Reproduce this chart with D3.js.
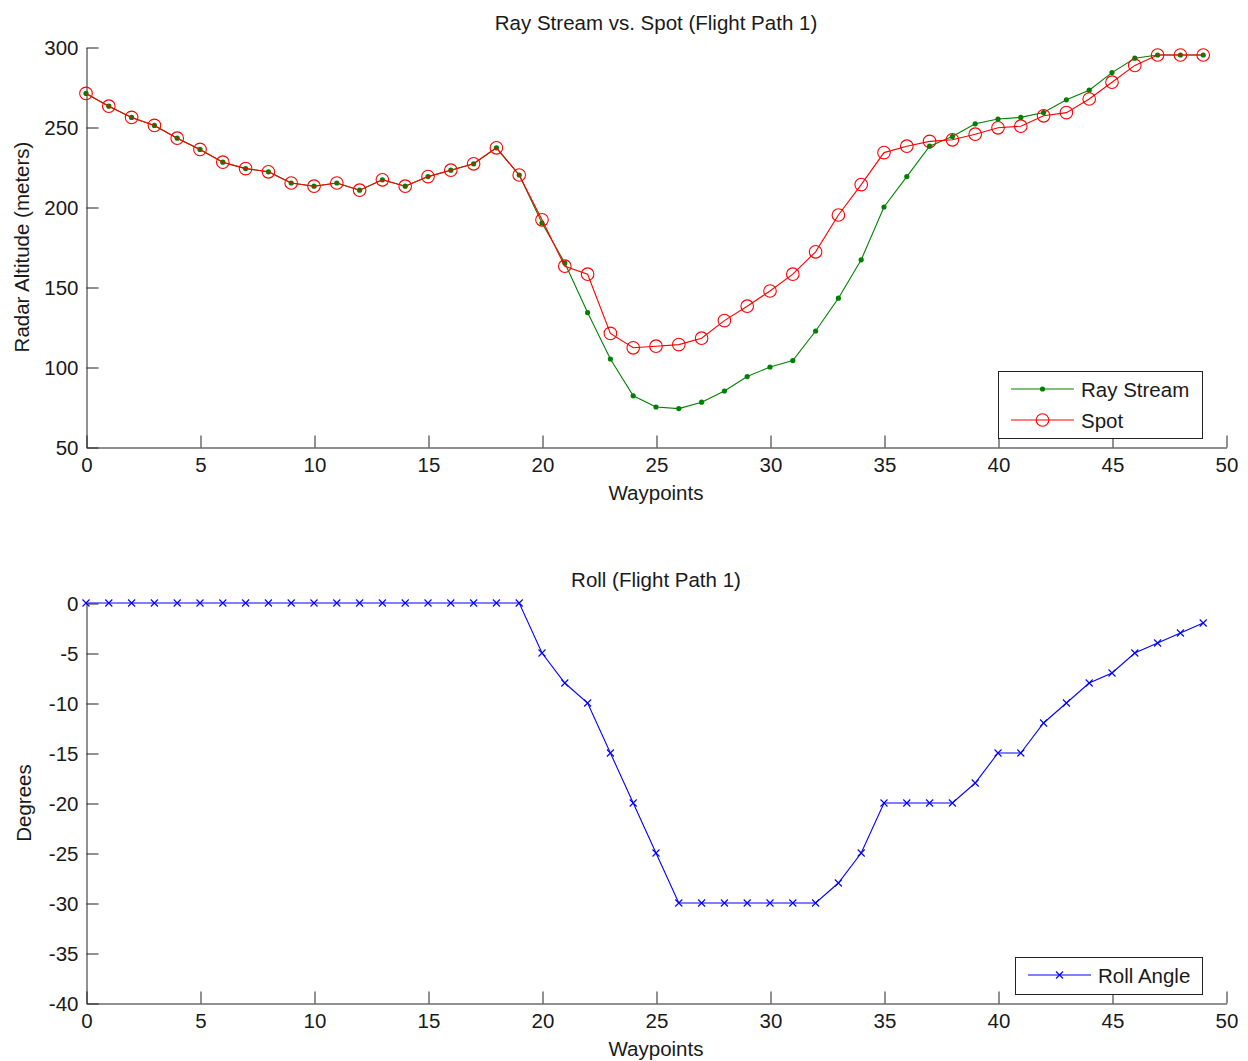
<!DOCTYPE html>
<html>
<head>
<meta charset="utf-8">
<script src="https://cdn.jsdelivr.net/npm/d3@7"></script>
<style>
  html, body { margin: 0; padding: 0; background: #fff; }
  svg text { font-family: "Liberation Sans", Arial, sans-serif; fill: #1a1a1a; }
</style>
</head>
<body>
<svg id="chart" width="1248" height="1061"></svg>
<script>
// ---- Data ----
const waypoints = d3.range(0, 50);
const rayStream = [271, 263, 256, 251, 243, 236, 228, 224, 222, 215,
                   213, 215, 210.5, 217, 213, 219, 223, 227, 237, 220,
                   190, 165, 134, 105, 82, 75, 74, 78, 85, 94,
                   100, 104, 122.5, 143, 167, 200, 219, 238, 244, 252,
                   255, 256, 259, 267, 273, 284, 293, 295, 295, 295];
const spot = [271, 263, 256, 251, 243, 236, 228, 224, 222, 215,
              213, 215, 210.5, 217, 213, 219, 223, 227, 237, 220,
              192, 163, 158, 121, 112, 113, 114, 118, 129, 138,
              147.5, 158, 172, 195, 214, 234, 238, 241, 242, 245.5,
              249.5, 250.5, 257, 259, 267.5, 278, 288.5, 295, 295, 295];
const rollAngle = [0, 0, 0, 0, 0, 0, 0, 0, 0, 0,
                   0, 0, 0, 0, 0, 0, 0, 0, 0, 0,
                   -5, -8, -10, -15, -20, -25, -30, -30, -30, -30,
                   -30, -30, -30, -28, -25, -20, -20, -20, -20, -18,
                   -15, -15, -12, -10, -8, -7, -5, -4, -3, -2];
const xTicks = [0, 5, 10, 15, 20, 25, 30, 35, 40, 45, 50];
const altTicks = [50, 100, 150, 200, 250, 300];
const rollTicks = [-40, -35, -30, -25, -20, -15, -10, -5, 0];

// ---- Layout ----
const svg = d3.select("#chart");
const FS = 20.5;
const left = 86, right = 1226;
const x = d3.scaleLinear().domain([0, 50]).range([left, right]);
const yTop = d3.scaleLinear().domain([50, 300]).range([447, 47]);
const yBot = d3.scaleLinear().domain([-40, 0]).range([1003, 603]);
const fmt = d => String(d);

function drawAxes(y, ticks, title, ylabel, titleY, ylabelX) {
  const g = svg.append("g");
  const xa = g.append("g")
    .attr("transform", `translate(0.5,${y.range()[0] + 0.5})`)
    .call(d3.axisBottom(x).tickValues(xTicks).tickFormat(fmt)
      .tickSizeInner(-12).tickSizeOuter(0).tickPadding(10));
  const ya = g.append("g")
    .attr("transform", `translate(${left + 0.5},0.5)`)
    .call(d3.axisLeft(y).tickValues(ticks).tickFormat(fmt)
      .tickSizeInner(-12).tickSizeOuter(0).tickPadding(8));
  [xa, ya].forEach(a => {
    a.selectAll("path, line").attr("stroke", "#222").attr("stroke-width", 1);
    a.selectAll("text").style("font-size", FS + "px")
      .style("font-family", '"Liberation Sans", Arial, sans-serif').attr("fill", "#1a1a1a");
  });
  g.append("text").attr("x", (left + right) / 2).attr("y", titleY)
    .attr("text-anchor", "middle").style("font-size", FS + "px").text(title);
  g.append("text").attr("x", (left + right) / 2).attr("y", y.range()[0] + 53)
    .attr("text-anchor", "middle").style("font-size", FS + "px").text("Waypoints");
  const cy = (y.range()[0] + y.range()[1]) / 2;
  g.append("text").attr("transform", `translate(${ylabelX},${cy}) rotate(-90)`)
    .attr("text-anchor", "middle").style("font-size", FS + "px").text(ylabel);
}

drawAxes(yTop, altTicks, "Ray Stream vs. Spot (Flight Path 1)", "Radar Altitude (meters)", 30, 29);
drawAxes(yBot, rollTicks, "Roll (Flight Path 1)", "Degrees", 587, 31);

// ---- Top plot series ----
const lineTop = (arr) => d3.line().x((d, i) => x(waypoints[i])).y(d => yTop(d))(arr);
const GREEN = "#008000", RED = "#ff0000", BLUE = "#0000ff";

svg.append("path").attr("d", lineTop(rayStream)).attr("fill", "none")
  .attr("stroke", GREEN).attr("stroke-width", 1.1);
svg.append("g").selectAll("circle").data(rayStream).join("circle")
  .attr("cx", (d, i) => x(waypoints[i])).attr("cy", d => yTop(d)).attr("r", 2.6)
  .attr("fill", GREEN);

svg.append("path").attr("d", lineTop(spot)).attr("fill", "none")
  .attr("stroke", RED).attr("stroke-width", 1.1);
svg.append("g").selectAll("circle").data(spot).join("circle")
  .attr("cx", (d, i) => x(waypoints[i])).attr("cy", d => yTop(d)).attr("r", 6.3)
  .attr("fill", "none").attr("stroke", RED).attr("stroke-width", 1.1);

// ---- Bottom plot series ----
const lineBot = d3.line().x((d, i) => x(waypoints[i])).y(d => yBot(d));
svg.append("path").attr("d", lineBot(rollAngle)).attr("fill", "none")
  .attr("stroke", BLUE).attr("stroke-width", 1.1);
const cross = (cx, cy, s) => `M${cx - s},${cy - s}L${cx + s},${cy + s}M${cx - s},${cy + s}L${cx + s},${cy - s}`;
svg.append("g").selectAll("path").data(rollAngle).join("path")
  .attr("d", (d, i) => cross(x(waypoints[i]), yBot(d), 3.5))
  .attr("stroke", BLUE).attr("stroke-width", 1.1).attr("fill", "none");

// ---- Legends ----
function legend(x0, y0, w, h, entries) {
  const g = svg.append("g");
  g.append("rect").attr("x", x0 + 0.5).attr("y", y0 + 0.5).attr("width", w).attr("height", h)
    .attr("fill", "#fff").attr("stroke", "#222").attr("stroke-width", 1);
  entries.forEach(e => {
    g.append("line").attr("x1", x0 + 13).attr("x2", x0 + 76).attr("y1", e.y).attr("y2", e.y)
      .attr("stroke", e.color).attr("stroke-width", 1.1);
    const mx = x0 + 44.5;
    if (e.marker === "dot") {
      g.append("circle").attr("cx", mx).attr("cy", e.y).attr("r", 2.6).attr("fill", e.color);
    } else if (e.marker === "circle") {
      g.append("circle").attr("cx", mx).attr("cy", e.y).attr("r", 6.3)
        .attr("fill", "none").attr("stroke", e.color).attr("stroke-width", 1.1);
    } else {
      g.append("path").attr("d", cross(mx, e.y, 3.5)).attr("stroke", e.color)
        .attr("stroke-width", 1.1).attr("fill", "none");
    }
    g.append("text").attr("x", x0 + 83).attr("y", e.y + 7.5)
      .style("font-size", FS + "px").text(e.label);
  });
}
legend(998, 371, 204, 67, [
  { label: "Ray Stream", color: GREEN, marker: "dot", y: 389 },
  { label: "Spot", color: RED, marker: "circle", y: 420 }
]);
legend(1015, 957, 187, 37, [
  { label: "Roll Angle", color: BLUE, marker: "x", y: 975 }
]);
</script>
</body>
</html>
